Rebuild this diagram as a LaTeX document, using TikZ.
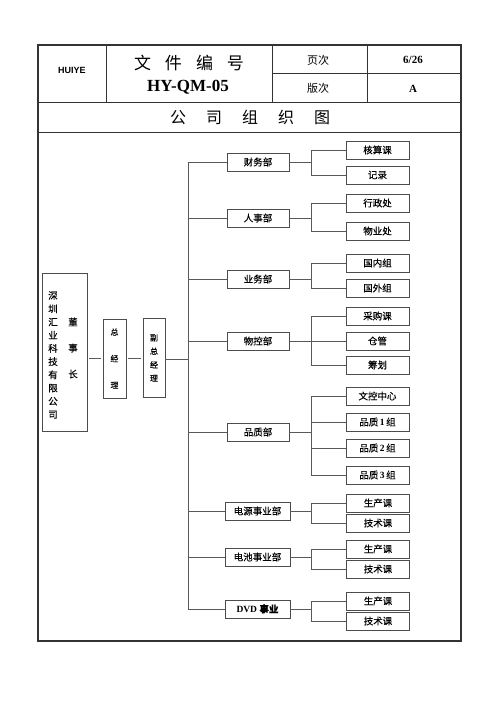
\documentclass[tikz,border=0pt]{standalone}
\usepackage{fontspec}
\setmainfont{Liberation Serif}
\setsansfont{Liberation Sans}
\newfontfamily\cjk[FakeBold=0.3]{Noto Sans CJK SC}
\newfontfamily\cjklight{Noto Sans CJK SC}
\usetikzlibrary{positioning, calc}
\tikzset{
    frame/.style={draw=black!80, line width=1.3pt},
    rule/.style={draw=black!80, line width=0.9pt},
    dept/.style={rectangle, draw=black!70, line width=0.7pt, minimum width=62pt, minimum height=18pt, inner sep=0pt, font=\cjk\fontsize{9.5}{11}\selectfont},
    unit/.style={rectangle, draw=black!70, line width=0.7pt, minimum width=63pt, minimum height=18pt, inner sep=0pt, font=\cjk\fontsize{9.5}{11}\selectfont},
    vbox/.style={rectangle, draw=black!70, line width=0.7pt, minimum width=23pt, minimum height=79pt, inner sep=0pt, align=center},
    vtext/.style={inner sep=0pt, align=center},
    link/.style={draw=black!65, line width=0.7pt},
}

\begin{document}
\begin{tikzpicture}[x=1pt, y=-1pt]
    \useasboundingbox (0,0) rectangle (500,707);

    % Form frame and header grid
    \draw[frame] (38,45) rectangle (461,641);
    \draw[rule] (38,102) -- (461,102);
    \draw[rule] (38,132) -- (461,132);
    \draw[rule] (106,45) -- (106,102);
    \draw[rule] (272,45) -- (272,102);
    \draw[rule] (367,45) -- (367,102);
    \draw[rule] (272,73) -- (461,73);

    % Header texts
    \node (logo) at (72,70) {\sffamily\bfseries\fontsize{9}{10}\selectfont HUIYE};
    \node (docname) at (189,63) {\cjklight\fontsize{17}{18}\selectfont 文\hspace{14pt}件\hspace{14pt}编\hspace{14pt}号};
    \node (docno) at (188,87) {\bfseries\fontsize{17}{18}\selectfont HY-QM-05};
    \node (pagelbl) at (318,60) {\cjklight\fontsize{11}{12}\selectfont 页次};
    \node (pageno) at (413,60) {\bfseries\fontsize{11}{12}\selectfont 6/26};
    \node (revlbl) at (318,88) {\cjklight\fontsize{11}{12}\selectfont 版次};
    \node (revno) at (413,89) {\bfseries\fontsize{11}{12}\selectfont A};
    \node (title) at (250,117) {\cjklight\fontsize{16}{18}\selectfont 公\hspace{20pt}司\hspace{20pt}组\hspace{20pt}织\hspace{20pt}图};

    % Top management
    \node[vbox, minimum width=45pt, minimum height=158pt] (chair) at (64.5,352) {};
    \node[vtext, font=\cjk\fontsize{9.5}{13.2}\selectfont] (chairco) at (53,355) {深\\圳\\汇\\业\\科\\技\\有\\限\\公\\司};
    \node[vtext, font=\cjk\fontsize{9.5}{26}\selectfont] (chairttl) at (73,348) {董\\事\\长};
    \node[vbox, font=\cjk\fontsize{8}{26.5}\selectfont] (gm) at (114.5,358.5) {总\\经\\理};
    \node[vbox, minimum width=22pt, font=\cjk\fontsize{8}{13.5}\selectfont] (vgm) at (154,358) {副\\总\\经\\理};
    \coordinate (spine) at (188,359);

    % Departments
    \node[dept] (finance) at (258,162) {财务部};
    \node[dept] (hr) at (258,218) {人事部};
    \node[dept] (sales) at (258,279) {业务部};
    \node[dept] (material) at (258,341) {物控部};
    \node[dept] (quality) at (258,432) {品质部};
    \node[dept, minimum width=65pt] (power) at (257.5,511) {电源事业部};
    \node[dept, minimum width=65pt] (battery) at (257.5,557) {电池事业部};
    \node[dept, minimum width=65pt] (dvd) at (257.5,609) {\rmfamily\bfseries DVD \cjk 事业};

    % Sections
    \node[unit] (acct) at (377.5,150) {核算课};
    \node[unit] (record) at (377.5,175) {记录};
    \node[unit] (admin) at (377.5,203) {行政处};
    \node[unit] (estate) at (377.5,231) {物业处};
    \node[unit] (domestic) at (377.5,263) {国内组};
    \node[unit] (foreign) at (377.5,288) {国外组};
    \node[unit] (purchase) at (377.5,316) {采购课};
    \node[unit] (store) at (377.5,341) {仓管};
    \node[unit] (plan) at (377.5,365) {筹划};
    \node[unit] (doc) at (377.5,396) {文控中心};
    \node[unit] (qa1) at (377.5,422) {品质\,{\rmfamily\bfseries 1}\,组};
    \node[unit] (qa2) at (377.5,448) {品质\,{\rmfamily\bfseries 2}\,组};
    \node[unit] (qa3) at (377.5,475) {品质\,{\rmfamily\bfseries 3}\,组};
    \node[unit] (pwrprod) at (378,503) {生产课};
    \node[unit] (pwrtech) at (378,523) {技术课};
    \node[unit] (batprod) at (378,549) {生产课};
    \node[unit] (battech) at (378,569) {技术课};
    \node[unit] (dvdprod) at (378,601) {生产课};
    \node[unit] (dvdtech) at (378,621) {技术课};

    % Connectors
    \draw[link, shorten <=2pt, shorten >=2pt] (chair.east |- gm.west) -- (gm.west);
    \draw[link, shorten <=1.5pt, shorten >=1.5pt] (gm.east) -- (vgm.west |- gm.east);
    \draw[link] (vgm.east |- spine) -- (spine);
    \foreach \d in {finance, hr, sales, material, quality, power, battery, dvd}
        \draw[link] (spine) |- (\d.west);
    \foreach \d/\subs in {finance/{acct,record}, hr/{admin,estate}, sales/{domestic,foreign},
                          material/{purchase,store,plan}, quality/{doc,qa1,qa2,qa3},
                          power/{pwrprod,pwrtech}, battery/{batprod,battech}, dvd/{dvdprod,dvdtech}}{
        \coordinate (\d-j) at (\d.east -| 311,0);
        \draw[link] (\d.east) -- (\d-j);
        \foreach \s in \subs
            \draw[link] (\d-j) |- (\s.west);
    }
\end{tikzpicture}
\end{document}
